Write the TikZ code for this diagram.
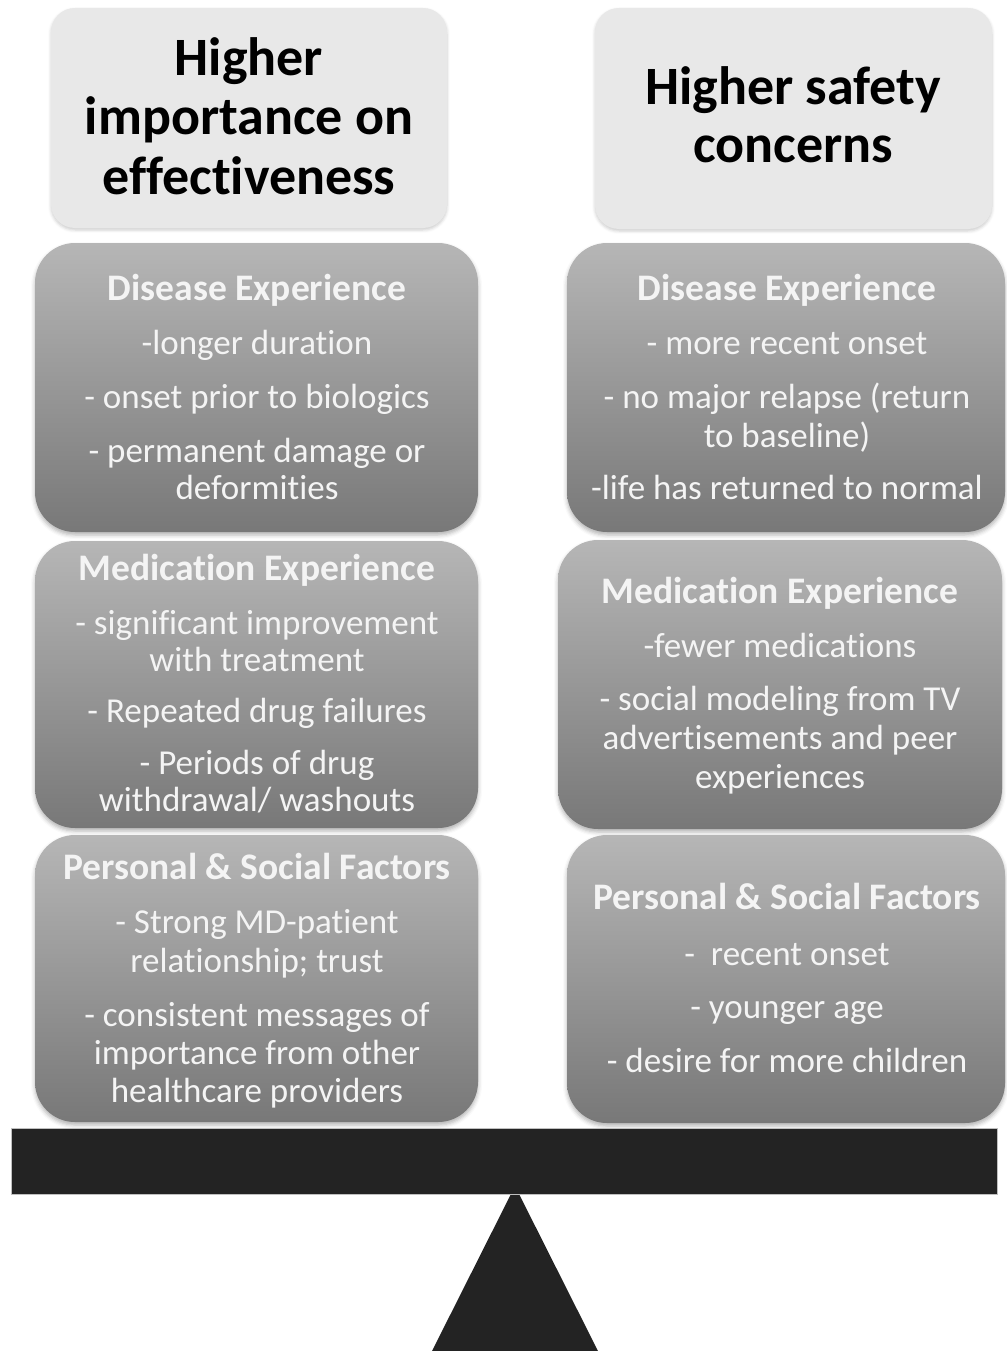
\documentclass[tikz,border=0pt]{standalone}
\usepackage{fontspec}
\setmainfont{Carlito}[Ligatures=NoCommon]
\usetikzlibrary{shadows.blur}
\definecolor{titlefill}{RGB}{232,232,232}
\definecolor{boxtop}{RGB}{182,182,182}
\definecolor{boxbot}{RGB}{120,120,120}
\definecolor{txtwhite}{RGB}{244,244,244}
\definecolor{beamcol}{RGB}{35,35,35}
\tikzset{
  titlebox/.style={draw=none, fill=titlefill, rounded corners=24pt, blur shadow={shadow xshift=0pt, shadow yshift=-2pt, shadow blur radius=3pt, shadow opacity=20}},
  factbox/.style={draw=none, top color=boxtop, bottom color=boxbot, rounded corners=40pt, blur shadow={shadow xshift=0pt, shadow yshift=-3pt, shadow blur radius=4pt, shadow opacity=30}},
  titletxt/.style={font=\fontsize{54}{58}\selectfont\bfseries, text=black, align=center, inner sep=0pt},
  headtxt/.style={font=\fontsize{37.5}{37}\selectfont\bfseries, text=txtwhite, anchor=base, inner sep=0pt},
  bodytxt/.style={font=\fontsize{35}{37}\selectfont, text=txtwhite, anchor=base, inner sep=0pt},
}
\newcommand\hdline[4]{\node[headtxt] (#1) at (#2,#3) {#4};}
\newcommand\bdline[4]{\node[bodytxt] (#1) at (#2,#3) {#4};}
\begin{document}
\begin{tikzpicture}[x=1pt,y=-1pt]
\useasboundingbox (0,0) rectangle (1006,1351);
% title boxes
\path[titlebox] (51,8) rectangle (447,228);
\path[titlebox] (595,8) rectangle (992,229);
\node[titletxt, anchor=base] (tl1) at (249,76) {Higher};
\node[titletxt, anchor=base] (tl2) at (249,135) {importance on};
\node[titletxt, anchor=base] (tl3) at (249,194) {effectiveness};
\node[titletxt, anchor=base] (tr1) at (793,105) {Higher safety};
\node[titletxt, anchor=base] (tr2) at (793,163) {concerns};
% fact boxes
\path[factbox] (35,243) rectangle (478,532);
\path[factbox] (35,541) rectangle (478,828);
\path[factbox] (35,835) rectangle (478,1122);
\path[factbox] (567,243) rectangle (1005,532);
\path[factbox] (558,540) rectangle (1002,829);
\path[factbox] (567,835) rectangle (1005,1123);
% left disease
\hdline{ld0}{257}{300}{Disease Experience}
\bdline{ld1}{257}{354}{-longer duration}
\bdline{ld2}{257}{408}{- onset prior to biologics}
\bdline{ld3}{257}{462}{- permanent damage or}
\bdline{ld4}{257}{499}{deformities}
% left medication
\hdline{lm0}{257}{580}{Medication Experience}
\bdline{lm1}{257}{634}{- significant improvement}
\bdline{lm2}{257}{671}{with treatment}
\bdline{lm3}{257}{722}{- Repeated drug failures}
\bdline{lm4}{257}{774}{- Periods of drug}
\bdline{lm5}{257}{811}{withdrawal/ washouts}
% left personal
\hdline{lp0}{257}{879}{Personal \& Social Factors}
\bdline{lp1}{257}{933}{- Strong MD-patient}
\bdline{lp2}{257}{972}{relationship; trust}
\bdline{lp3}{257}{1026}{- consistent messages of}
\bdline{lp4}{257}{1064}{importance from other}
\bdline{lp5}{257}{1102}{healthcare providers}
% right disease
\hdline{rd0}{787}{300}{Disease Experience}
\bdline{rd1}{787}{354}{- more recent onset}
\bdline{rd2}{787}{408}{- no major relapse (return}
\bdline{rd3}{787}{447}{to baseline)}
\bdline{rd4}{787}{499}{-life has returned to normal}
% right medication
\hdline{rm0}{780}{603}{Medication Experience}
\bdline{rm1}{780}{657}{-fewer medications}
\bdline{rm2}{780}{710}{- social modeling from TV}
\bdline{rm3}{780}{749}{advertisements and peer}
\bdline{rm4}{780}{788}{experiences}
% right personal
\hdline{rp0}{787}{909}{Personal \& Social Factors}
\bdline{rp1}{787}{965}{-\ \ recent onset}
\bdline{rp2}{787}{1018}{- younger age}
\bdline{rp3}{787}{1072}{- desire for more children}
% fulcrum and beam
\fill[beamcol] (515,1186) -- (598,1351) -- (432,1351) -- cycle;
\path[fill=beamcol, draw=gray!50, line width=0.8pt] (11,1128) rectangle (997,1194);
\end{tikzpicture}
\end{document}
